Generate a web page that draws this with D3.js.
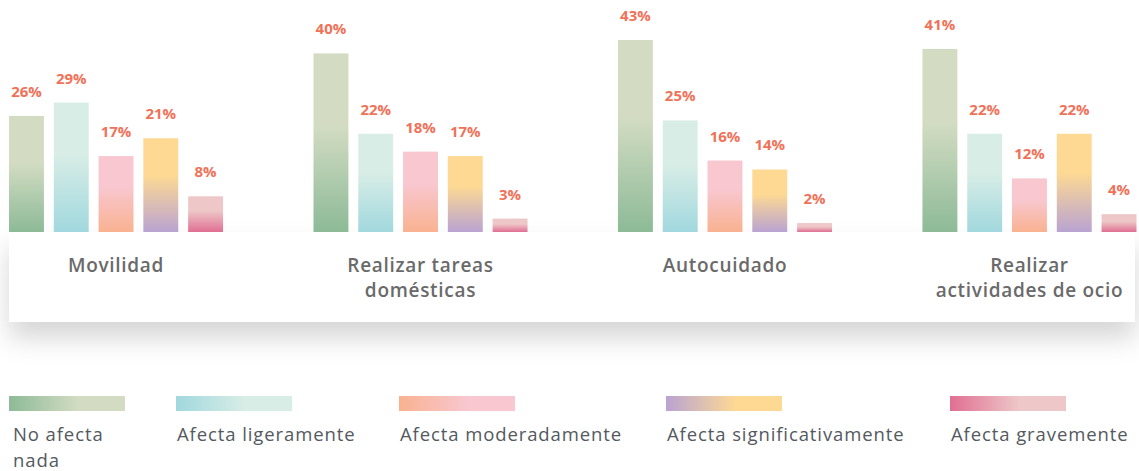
<!DOCTYPE html>
<html>
<head>
<meta charset="utf-8">
<script src="https://cdn.jsdelivr.net/npm/d3@7"></script>
<style>
  body { margin: 0; background: #fff; }
  svg { display: block; }
</style>
</head>
<body>
<div id="chart"></div>
<script>
const categories = [
  ['Movilidad'],
  ['Realizar tareas', 'domésticas'],
  ['Autocuidado'],
  ['Realizar', 'actividades de ocio']
];
const series = ['No afecta nada', 'Afecta ligeramente', 'Afecta moderadamente', 'Afecta significativamente', 'Afecta gravemente'];
const values = [
  [26, 29, 17, 21, 8],
  [40, 22, 18, 17, 3],
  [43, 25, 16, 14, 2],
  [41, 22, 12, 22, 4]
];
// dark end, light end per series
const colorsDark = ['#8dba97', '#a1d8de', '#f9b291', '#b9a3d2', '#e06f93'];
const colorsLight = ['#d3dcc3', '#d8ede6', '#f8c7d0', '#fdd994', '#eec8c8'];
const legendLines = [['No afecta', 'nada'], ['Afecta ligeramente'], ['Afecta moderadamente'], ['Afecta significativamente'], ['Afecta gravemente']];
const legendX = [9, 176, 399, 666, 950];

const width = 1139;
const height = 471;
const baseline = 232;
const font = '"Open Sans", sans-serif';

const svg = d3.select('#chart').append('svg')
  .attr('width', width)
  .attr('height', height);

const defs = svg.append('defs');

const shadow = defs.append('filter')
  .attr('id', 'shadow')
  .attr('x', '-10%').attr('y', '-30%')
  .attr('width', '120%').attr('height', '200%');
shadow.append('feDropShadow')
  .attr('dx', 0).attr('dy', 16)
  .attr('stdDeviation', 13)
  .attr('flood-color', '#000')
  .attr('flood-opacity', 0.16);

series.forEach((s, i) => {
  const vg = defs.append('linearGradient')
    .attr('id', `vg${i}`)
    .attr('x1', 0).attr('y1', 0).attr('x2', 0).attr('y2', 1);
  vg.append('stop').attr('offset', '0%').attr('stop-color', colorsLight[i]);
  vg.append('stop').attr('offset', '40%').attr('stop-color', colorsLight[i]);
  vg.append('stop').attr('offset', '100%').attr('stop-color', colorsDark[i]);

  const hg = defs.append('linearGradient')
    .attr('id', `hg${i}`)
    .attr('x1', 0).attr('y1', 0).attr('x2', 1).attr('y2', 0);
  hg.append('stop').attr('offset', '0%').attr('stop-color', colorsDark[i]);
  hg.append('stop').attr('offset', '60%').attr('stop-color', colorsLight[i]);
  hg.append('stop').attr('offset', '100%').attr('stop-color', colorsLight[i]);
});

const x0 = d3.scaleBand()
  .domain(d3.range(categories.length))
  .range([9, 1136.5])
  .paddingInner(0.297)
  .paddingOuter(0);

const x1 = d3.scaleBand()
  .domain(d3.range(series.length))
  .range([0, x0.bandwidth()])
  .paddingInner(0.22)
  .paddingOuter(0);

const y = d3.scaleLinear()
  .domain([0, 43])
  .range([baseline, 40]);

// label box with shadow
svg.append('rect')
  .attr('x', 9)
  .attr('y', baseline)
  .attr('width', 1126)
  .attr('height', 90)
  .attr('fill', '#fff')
  .attr('filter', 'url(#shadow)');

const groups = svg.selectAll('g.group')
  .data(values)
  .enter()
  .append('g')
  .attr('class', 'group')
  .attr('transform', (d, i) => `translate(${x0(i)},0)`);

groups.selectAll('rect')
  .data(d => d)
  .enter()
  .append('rect')
  .attr('x', (d, i) => x1(i))
  .attr('y', d => y(d))
  .attr('width', x1.bandwidth())
  .attr('height', d => baseline - y(d))
  .attr('fill', (d, i) => `url(#vg${i})`);

groups.selectAll('text.val')
  .data(d => d)
  .enter()
  .append('text')
  .attr('class', 'val')
  .attr('x', (d, i) => x1(i) + x1.bandwidth() / 2)
  .attr('y', d => y(d) - 19)
  .attr('text-anchor', 'middle')
  .attr('font-family', font)
  .attr('font-weight', 700)
  .attr('font-size', 15)
  .attr('fill', '#f07259')
  .text(d => `${d}%`);

groups.append('text')
  .attr('x', x0.bandwidth() / 2)
  .attr('y', 272)
  .attr('text-anchor', 'middle')
  .attr('font-family', font)
  .attr('font-weight', 600)
  .attr('font-size', 19)
  .attr('letter-spacing', 0.7)
  .attr('fill', '#6a6a6a')
  .selectAll('tspan')
  .data((d, i) => categories[i])
  .enter()
  .append('tspan')
  .attr('x', x0.bandwidth() / 2)
  .attr('dy', (d, i) => (i === 0 ? 0 : 25))
  .text(d => d);

// legend
const legend = svg.selectAll('g.legend')
  .data(series)
  .enter()
  .append('g')
  .attr('class', 'legend')
  .attr('transform', (d, i) => `translate(${legendX[i]},396)`);

legend.append('rect')
  .attr('width', 116)
  .attr('height', 15)
  .attr('fill', (d, i) => `url(#hg${i})`);

legend.append('text')
  .attr('x', (d, i) => (i === 0 ? 4 : 1))
  .attr('y', 45)
  .attr('font-family', font)
  .attr('font-size', 18.5)
  .attr('letter-spacing', 0.9)
  .attr('fill', '#545960')
  .selectAll('tspan')
  .data((d, i) => legendLines[i])
  .enter()
  .append('tspan')
  .attr('x', function () { return this.parentNode.getAttribute('x'); })
  .attr('dy', (d, i) => (i === 0 ? 0 : 25.5))
  .text(d => d);
</script>
</body>
</html>
